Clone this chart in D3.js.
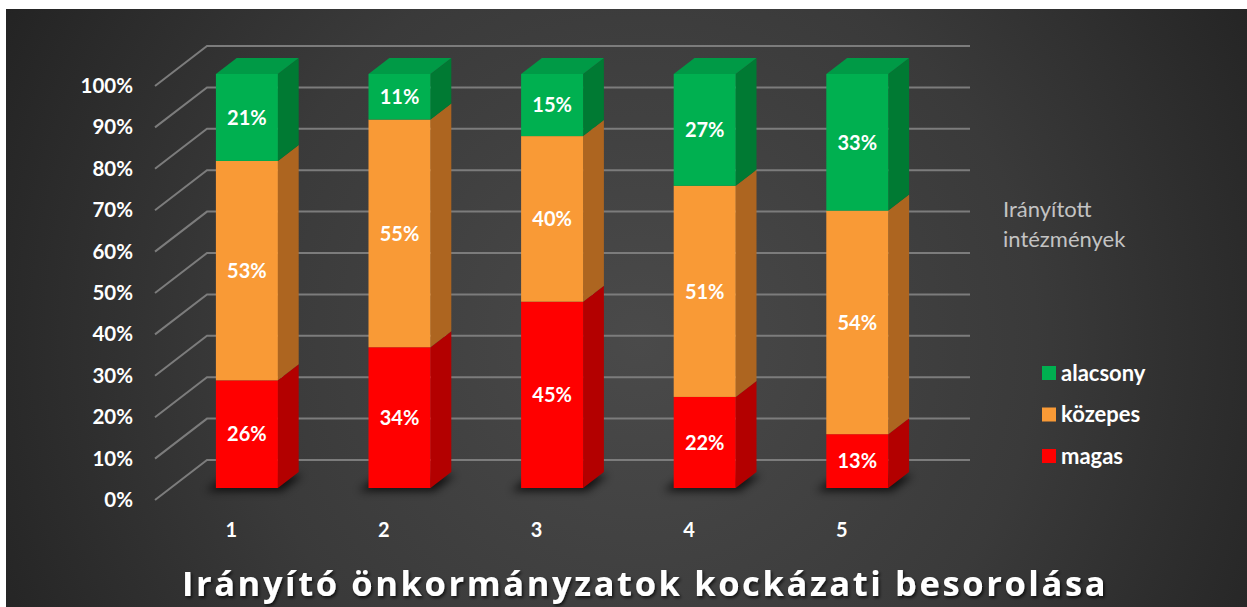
<!DOCTYPE html>
<html>
<head>
<meta charset="utf-8">
<script src="https://cdn.jsdelivr.net/npm/d3@7"></script>
<style>
  body { margin: 0; background: #ffffff; }
  svg { display: block; }
</style>
</head>
<body>
<div id="chart"></div>
<script>
// chart data
var categories = ["1", "2", "3", "4", "5"];
var series_keys = ["magas", "kozepes", "alacsony"];
var series_names = { magas: "magas", kozepes: "közepes", alacsony: "alacsony" };
var magas = [26, 34, 45, 22, 13];
var kozepes = [53, 55, 40, 51, 54];
var alacsony = [21, 11, 15, 27, 33];
var y_ticks = [0, 10, 20, 30, 40, 50, 60, 70, 80, 90, 100];
var legend_order = ["alacsony", "kozepes", "magas"];
var side_title = ["Irányított", "intézmények"];
var chart_title = "Irányító önkormányzatok kockázati besorolása";

var width = 1247;
var height = 607;

var colors = {
    alacsony: { front: "#00b050", side: "#007a33", top: "#009a46" },
    kozepes: { front: "#f99a36", side: "#ad6520", top: "#d98024" },
    magas: { front: "#ff0000", side: "#b30000", top: "#d40000" }
};

// 3d look: the floor goes back this far
var depth_dx = 52;
var depth_dy = -40;
var bar_f0 = 0.3;
var bar_f1 = 0.7;
var bar_w = 62;
var font = "Lato, 'Open Sans', sans-serif";

var table = categories.map(function (c, i) {
    return { cat: c, magas: magas[i] / 100, kozepes: kozepes[i] / 100, alacsony: alacsony[i] / 100 };
});
var stacked = d3.stack().keys(series_keys)(table);

var svg = d3.select("#chart").append("svg")
    .attr("width", width)
    .attr("height", height);

var defs = svg.append("defs");
var bg = defs.append("radialGradient")
    .attr("id", "bg")
    .attr("gradientUnits", "userSpaceOnUse")
    .attr("cx", 640).attr("cy", 340).attr("r", 720);
bg.append("stop").attr("offset", "0").attr("stop-color", "#4a4a4a");
bg.append("stop").attr("offset", "0.55").attr("stop-color", "#3a3a3a");
bg.append("stop").attr("offset", "1").attr("stop-color", "#232323");

defs.append("filter").attr("id", "blur")
    .attr("x", "-50%").attr("y", "-100%").attr("width", "200%").attr("height", "300%")
    .append("feGaussianBlur").attr("stdDeviation", 4);

var ts = defs.append("filter").attr("id", "tshadow");
ts.append("feDropShadow")
    .attr("dx", 1.5).attr("dy", 2).attr("stdDeviation", 1.5)
    .attr("flood-color", "#000").attr("flood-opacity", 0.7);

svg.append("rect")
    .attr("x", 6).attr("y", 9)
    .attr("width", width - 6).attr("height", height - 9)
    .attr("fill", "url(#bg)");

var x = d3.scaleBand().domain(categories).range([155, 918]);
var y = d3.scaleLinear().domain([0, 1]).range([500, 86]);

// gridlines: slanted side wall + back wall
var grid = svg.append("g").attr("class", "grid")
    .attr("stroke", "#7c7c7c").attr("stroke-width", 2).attr("fill", "none");
y_ticks.forEach(function (t) {
    var yy = y(t / 100);
    grid.append("path")
        .attr("d", "M155," + yy + "L" + (155 + depth_dx) + "," + (yy + depth_dy) +
            "H" + (918 + depth_dx));
});

// y axis labels
var y_axis = svg.append("g")
    .attr("transform", "translate(133,0)")
    .call(d3.axisLeft(y).tickValues(y_ticks.map(function (t) { return t / 100; }))
        .tickFormat(d3.format(".0%")).tickSize(0).tickPadding(0));
y_axis.select(".domain").remove();
y_axis.selectAll("text")
    .attr("fill", "#ffffff")
    .attr("font-family", font)
    .attr("font-weight", "bold")
    .attr("font-size", "20.5px");

// x axis labels
var x_axis = svg.append("g")
    .attr("transform", "translate(0,522)")
    .call(d3.axisBottom(x).tickSize(0).tickPadding(0));
x_axis.select(".domain").remove();
x_axis.selectAll("text")
    .attr("fill", "#ffffff")
    .attr("font-family", font)
    .attr("font-weight", "bold")
    .attr("font-size", "20px")
    .attr("dy", "0.75em");

function px(cat, f) {
    return x(cat) + x.bandwidth() / 2 - bar_w / 2 + depth_dx * f;
}
function py(v, f) {
    return y(v) + depth_dy * f;
}

// floor shadows
svg.append("g").selectAll("path")
    .data(categories)
    .join("path")
    .attr("filter", "url(#blur)")
    .attr("fill", "#000")
    .attr("opacity", 0.75)
    .attr("d", function (c) {
        var l0 = px(c, bar_f0) - 10, l1 = px(c, bar_f1) - 10;
        var y0 = py(0, bar_f0) + 3, y1 = py(0, bar_f1) + 3;
        return "M" + l0 + "," + y0 + "L" + l1 + "," + y1 +
            "L" + (l1 + bar_w + 14) + "," + y1 + "L" + (l0 + bar_w + 14) + "," + y0 + "Z";
    });

var bars = svg.append("g").attr("class", "bars");
var ddx = depth_dx * (bar_f1 - bar_f0);
var ddy = depth_dy * (bar_f1 - bar_f0);

stacked.forEach(function (layer, li) {
    var key = layer.key;
    var g = bars.append("g").attr("class", "series-" + key);
    layer.forEach(function (d) {
        var c = d.data.cat;
        var x0 = px(c, bar_f0);
        var yb = py(d[0], bar_f0);
        var yt = py(d[1], bar_f0);
        // side
        g.append("path")
            .attr("fill", colors[key].side)
            .attr("d", "M" + (x0 + bar_w) + "," + yb + "L" + (x0 + bar_w) + "," + yt +
                "l" + ddx + "," + ddy + "L" + (x0 + bar_w + ddx) + "," + (yb + ddy) + "Z");
        // front
        g.append("rect")
            .attr("x", x0).attr("y", yt)
            .attr("width", bar_w).attr("height", yb - yt)
            .attr("fill", colors[key].front);
        // top only on the last segment
        if (li == stacked.length - 1) {
            g.append("path")
                .attr("fill", colors[key].top)
                .attr("d", "M" + x0 + "," + yt + "l" + ddx + "," + ddy + "h" + bar_w +
                    "l" + (-ddx) + "," + (-ddy) + "Z");
        }
        g.append("text")
            .attr("x", x0 + bar_w / 2)
            .attr("y", (yt + yb) / 2)
            .attr("dy", "0.36em")
            .attr("text-anchor", "middle")
            .attr("fill", "#ffffff")
            .attr("font-family", font)
            .attr("font-weight", "bold")
            .attr("font-size", "20px")
            .text(d3.format(".0%")(d[1] - d[0]));
    });
});

// legend
var side = svg.append("g").attr("fill", "#c3c3c3")
    .attr("font-family", font).attr("font-size", "22px");
side_title.forEach(function (s, i) {
    side.append("text").attr("x", 1003).attr("y", 217 + i * 30).text(s);
});

var legend = svg.append("g").selectAll("g")
    .data(legend_order)
    .join("g")
    .attr("transform", function (k, i) { return "translate(1042," + (373 + i * 41.5) + ")"; });
legend.append("rect")
    .attr("x", 0).attr("y", -7).attr("width", 14).attr("height", 14)
    .attr("fill", function (k) { return colors[k].front; });
legend.append("text")
    .attr("x", 19).attr("dy", "0.36em")
    .attr("fill", "#ffffff")
    .attr("font-family", font)
    .attr("font-weight", "bold")
    .attr("font-size", "22px")
    .text(function (k) { return series_names[k]; });

// title
svg.append("text")
    .attr("x", 645).attr("y", 596)
    .attr("text-anchor", "middle")
    .attr("fill", "#ffffff")
    .attr("filter", "url(#tshadow)")
    .attr("font-family", "'Open Sans', sans-serif")
    .attr("font-weight", "bold")
    .attr("font-size", "34.5px")
    .attr("letter-spacing", "2.6px")
    .text(chart_title);
</script>
</body>
</html>
